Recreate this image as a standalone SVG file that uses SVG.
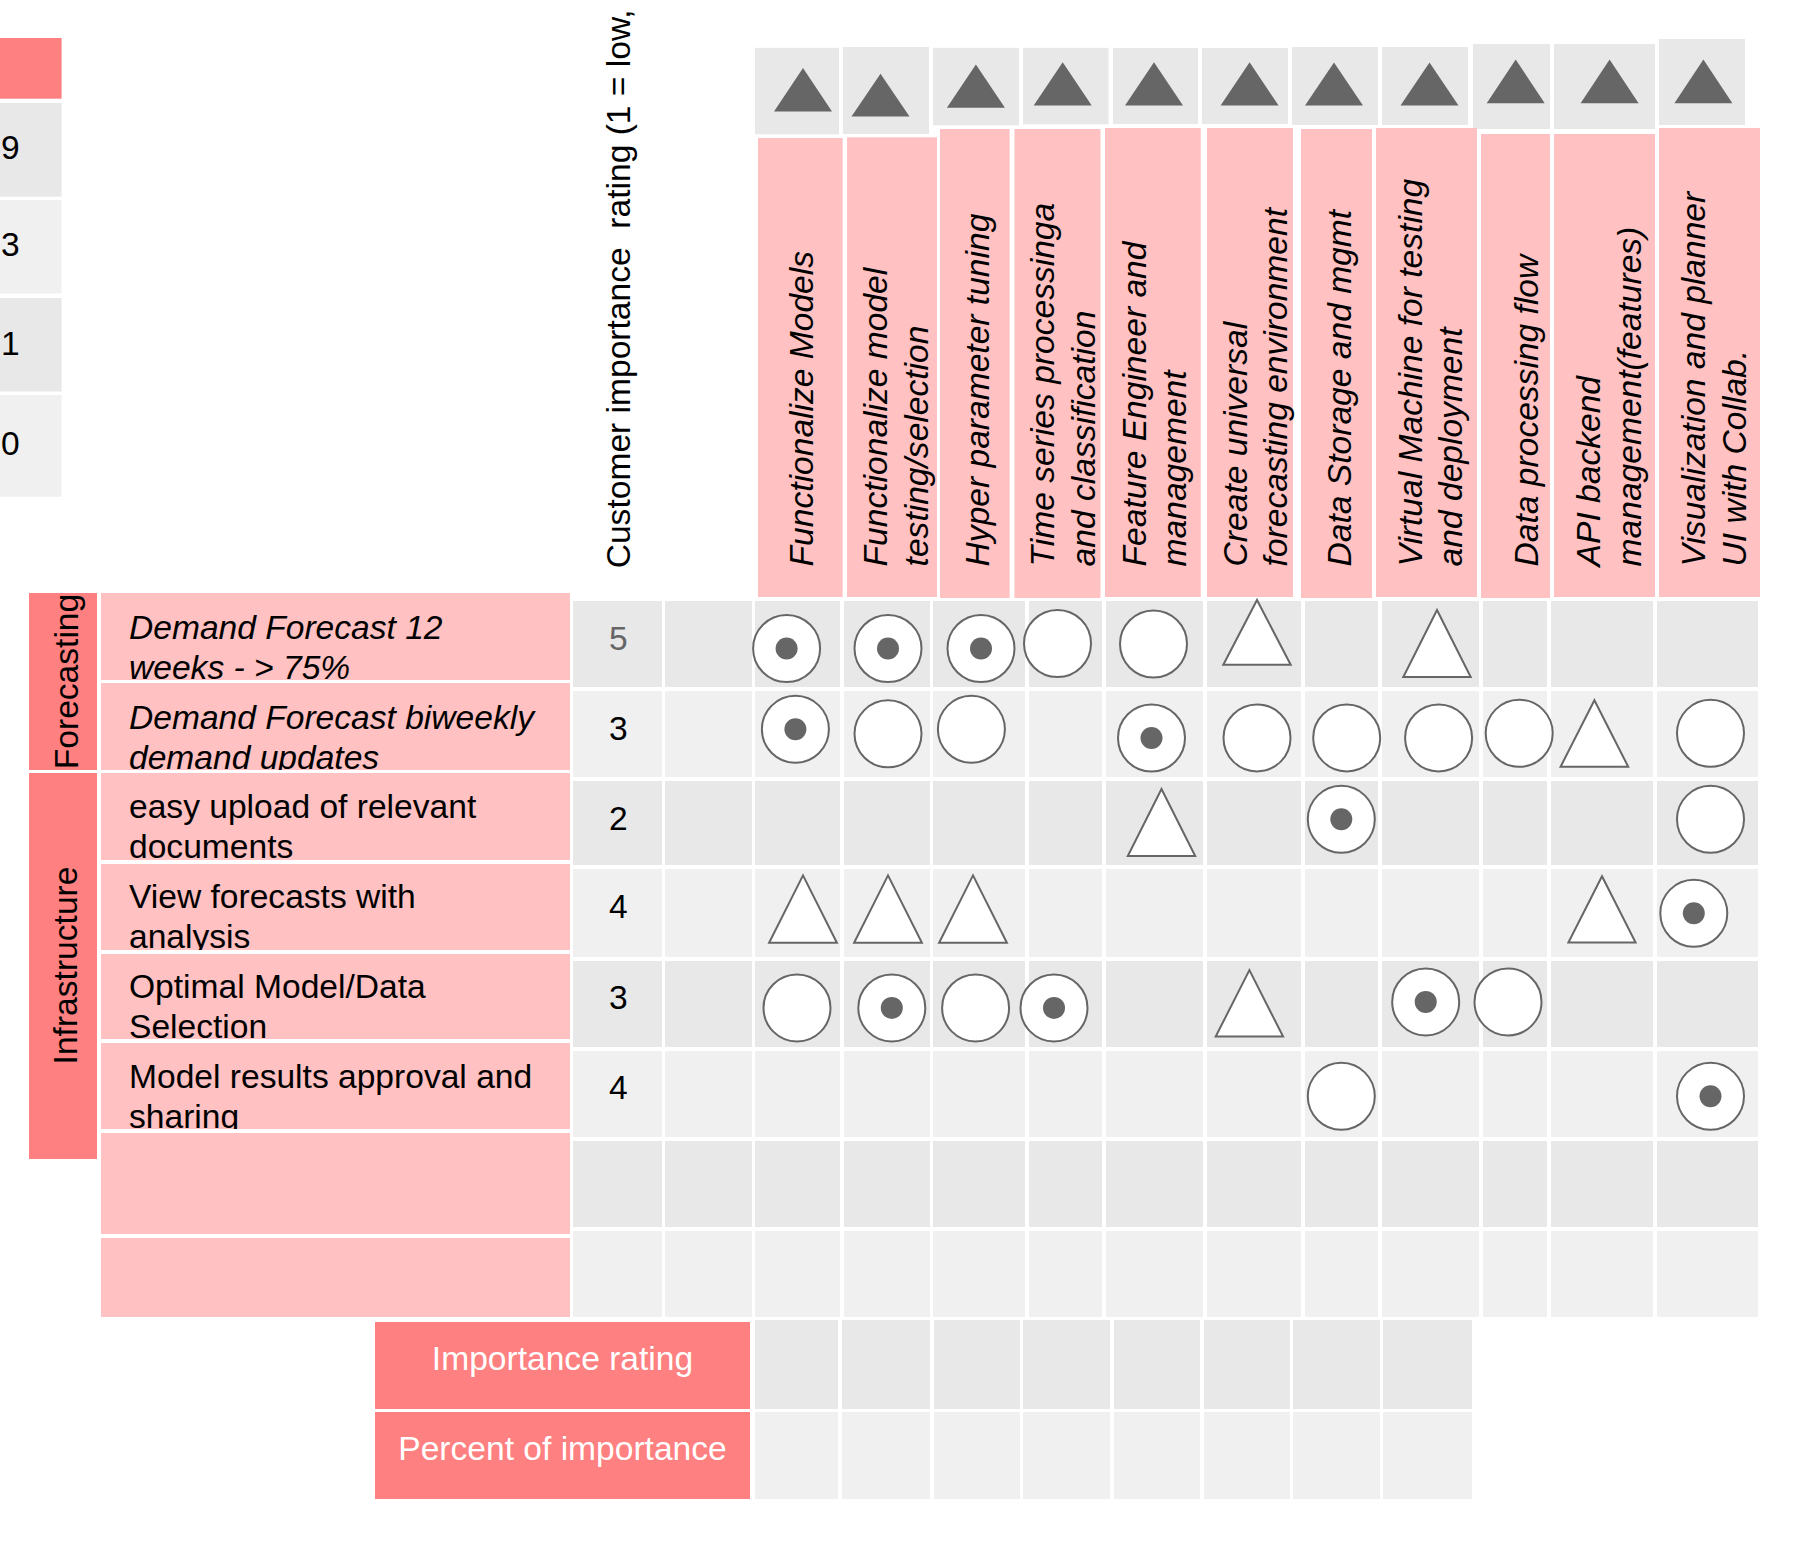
<svg xmlns="http://www.w3.org/2000/svg" width="1815" height="1554" viewBox="0 0 1815 1554">
<style>
text{font-family:"Liberation Sans",Arial,sans-serif;font-size:33.6px;fill:#000;white-space:pre}
.it{font-style:italic}
.wt{fill:#fff}
.gy{fill:#666}
.pk{fill:#ffc1c1}
.pd{fill:#ff8080}
.g1{fill:#e8e8e8}
.g2{fill:#eff0ef}
.c{fill:#fff;stroke:#666;stroke-width:2}
.d{fill:#666}
.t{fill:#fff;stroke:#666;stroke-width:2;stroke-linejoin:miter}
.ht{fill:#666}
</style>
<defs>
<clipPath id="cl1"><rect x="101" y="593" width="469" height="87"/></clipPath>
<clipPath id="cl2"><rect x="101" y="683" width="469" height="87"/></clipPath>
<clipPath id="cl3"><rect x="101" y="773" width="469" height="87"/></clipPath>
<clipPath id="cl4"><rect x="101" y="864" width="469" height="86"/></clipPath>
<clipPath id="cl5"><rect x="101" y="954" width="469" height="85"/></clipPath>
<clipPath id="cl6"><rect x="101" y="1043" width="469" height="86"/></clipPath>
<clipPath id="clF"><rect x="29" y="593" width="68" height="177"/></clipPath>
</defs>
<rect width="1815" height="1554" fill="#fff"/>

<g id="legend">
<rect class="pd" x="0" y="38" width="61.6" height="60.7"/>
<rect class="g1" x="0" y="103" width="61.6" height="93.7"/>
<rect class="g2" x="0" y="200" width="61.6" height="93.5"/>
<rect class="g1" x="0" y="298" width="61.6" height="93.5"/>
<rect class="g2" x="0" y="395" width="61.6" height="101.7"/>
<text x="1" y="158.8">9</text>
<text x="1" y="256.4">3</text>
<text x="1" y="354.8">1</text>
<text x="1" y="455.4">0</text>
</g>

<g id="customer-importance-title">
<text transform="translate(629.5,568.3) rotate(-90)">Customer importance  rating (1 = low,</text>
</g>

<g id="header-triangles">
<rect class="g1" x="755" y="47.8" width="84" height="86.5"/>
<rect class="g1" x="843" y="47" width="86" height="87"/>
<rect class="g1" x="933" y="47.8" width="86" height="77.6"/>
<rect class="g1" x="1023" y="47.8" width="85.5" height="76.5"/>
<rect class="g1" x="1113" y="48" width="85" height="76"/>
<rect class="g1" x="1202" y="48" width="86" height="76"/>
<rect class="g1" x="1292" y="47" width="86" height="78"/>
<rect class="g1" x="1382" y="47" width="86" height="78"/>
<rect class="g1" x="1473" y="44" width="77" height="85"/>
<rect class="g1" x="1554" y="44" width="101" height="85"/>
<rect class="g1" x="1659" y="39" width="86" height="86"/>
<polygon class="ht" points="803,68 832,111.4 774,111.4"/>
<polygon class="ht" points="880.5,73.7 909.5,116.6 851.5,116.6"/>
<polygon class="ht" points="975.9,64.4 1004.9,107.7 946.9,107.7"/>
<polygon class="ht" points="1062.7,62.2 1091.7,105.5 1033.7,105.5"/>
<polygon class="ht" points="1154,62.2 1183,105.5 1125,105.5"/>
<polygon class="ht" points="1249.6,62.2 1278.6,105.5 1220.6,105.5"/>
<polygon class="ht" points="1334,62.6 1363,105.5 1305,105.5"/>
<polygon class="ht" points="1429.5,62.6 1458.5,105.5 1400.5,105.5"/>
<polygon class="ht" points="1515.7,59.6 1544.7,103.3 1486.7,103.3"/>
<polygon class="ht" points="1609.6,59.6 1638.6,103.3 1580.6,103.3"/>
<polygon class="ht" points="1703.4,59.6 1732.4,103.3 1674.4,103.3"/>
</g>

<g id="header-h1"><rect class="pk" x="758" y="138" width="84.6" height="459"/>
<text class="it" transform="translate(813,566.4) rotate(-90)">Functionalize Models</text></g>
<g id="header-h2"><rect class="pk" x="847" y="137.3" width="90" height="459.7"/>
<text class="it" transform="translate(887.4,566.4) rotate(-90)">Functionalize model</text>
<text class="it" transform="translate(927.7,566.4) rotate(-90)">testing/selection</text></g>
<g id="header-h3"><rect class="pk" x="940" y="129" width="69.6" height="469"/>
<text class="it" transform="translate(988.6,566.4) rotate(-90)">Hyper parameter tuning</text></g>
<g id="header-h4"><rect class="pk" x="1014.5" y="129" width="86" height="469"/>
<text class="it" transform="translate(1054,566.4) rotate(-90)">Time series processinga</text>
<text class="it" transform="translate(1094.7,566.4) rotate(-90)">and classification</text></g>
<g id="header-h5"><rect class="pk" x="1105" y="128" width="95.7" height="469"/>
<text class="it" transform="translate(1145.6,566.4) rotate(-90)">Feature Engineer and</text>
<text class="it" transform="translate(1186,566.4) rotate(-90)">management</text></g>
<g id="header-h6"><rect class="pk" x="1207" y="128" width="86" height="469"/>
<text class="it" transform="translate(1247,566.4) rotate(-90)">Create universal</text>
<text class="it" transform="translate(1287,566.4) rotate(-90)">forecasting environment</text></g>
<g id="header-h7"><rect class="pk" x="1301" y="129" width="71" height="469"/>
<text class="it" transform="translate(1350.6,566.4) rotate(-90)">Data Storage and mgmt</text></g>
<g id="header-h8"><rect class="pk" x="1376" y="128" width="101" height="469"/>
<text class="it" transform="translate(1422,566.4) rotate(-90)">Virtual Machine for testing</text>
<text class="it" transform="translate(1462,566.4) rotate(-90)">and deployment</text></g>
<g id="header-h9"><rect class="pk" x="1481" y="134" width="69" height="464"/>
<text class="it" transform="translate(1538,566.4) rotate(-90)">Data processing flow</text></g>
<g id="header-h10"><rect class="pk" x="1554" y="134" width="101" height="463"/>
<text class="it" transform="translate(1600,566.4) rotate(-90)">API backend</text>
<text class="it" transform="translate(1641,566.4) rotate(-90)">management(features)</text></g>
<g id="header-h11"><rect class="pk" x="1659" y="128" width="101" height="469"/>
<text class="it" transform="translate(1704.5,566.4) rotate(-90)">Visualization and planner</text>
<text class="it" transform="translate(1745.5,566.4) rotate(-90)">UI with Collab.</text></g>

<g id="category-forecasting">
<rect class="pd" x="29" y="593" width="68" height="177"/>
<g clip-path="url(#clF)"><text transform="translate(78,681.5) rotate(-90)" text-anchor="middle">Forecasting</text></g>
</g>
<g id="category-infrastructure">
<rect class="pd" x="29" y="773" width="68" height="386"/>
<text transform="translate(77,965.5) rotate(-90)" text-anchor="middle">Infrastructure</text>
</g>

<g id="req-1"><rect class="pk" x="101" y="593" width="469" height="87"/>
<g clip-path="url(#cl1)"><text class="it" x="129" y="638.5">Demand Forecast 12</text><text class="it" x="129" y="678.7">weeks - &gt; 75%</text></g></g>
<g id="req-2"><rect class="pk" x="101" y="683" width="469" height="87"/>
<g clip-path="url(#cl2)"><text class="it" x="129" y="728.5">Demand Forecast biweekly</text><text class="it" x="129" y="768.7">demand updates</text></g></g>
<g id="req-3"><rect class="pk" x="101" y="773" width="469" height="87"/>
<g clip-path="url(#cl3)"><text x="129" y="818">easy upload of relevant</text><text x="129" y="858.2">documents</text></g></g>
<g id="req-4"><rect class="pk" x="101" y="864" width="469" height="86"/>
<g clip-path="url(#cl4)"><text x="129" y="908">View forecasts with</text><text x="129" y="948.2">analysis</text></g></g>
<g id="req-5"><rect class="pk" x="101" y="954" width="469" height="85"/>
<g clip-path="url(#cl5)"><text x="129" y="998">Optimal Model/Data</text><text x="129" y="1038.2">Selection</text></g></g>
<g id="req-6"><rect class="pk" x="101" y="1043" width="469" height="86"/>
<g clip-path="url(#cl6)"><text x="129" y="1088">Model results approval and</text><text x="129" y="1128.2">sharing</text></g></g>
<g id="req-7"><rect class="pk" x="101" y="1133" width="469" height="101"/></g>
<g id="req-8"><rect class="pk" x="101" y="1238" width="469" height="79"/></g>

<g id="grid">
<g id="grid-row-1">
<rect class="g1" x="573" y="601" width="89" height="86"/><rect class="g1" x="665" y="601" width="87" height="86"/><rect class="g1" x="755" y="601" width="85" height="86"/><rect class="g1" x="844" y="601" width="86" height="86"/><rect class="g1" x="933" y="601" width="92" height="86"/><rect class="g1" x="1029" y="601" width="73" height="86"/><rect class="g1" x="1106" y="601" width="97" height="86"/><rect class="g1" x="1207" y="601" width="94" height="86"/><rect class="g1" x="1305" y="601" width="73" height="86"/><rect class="g1" x="1382" y="601" width="97" height="86"/><rect class="g1" x="1483" y="601" width="64" height="86"/><rect class="g1" x="1551" y="601" width="102" height="86"/><rect class="g1" x="1657" y="601" width="101" height="86"/>
</g>
<g id="grid-row-2">
<rect class="g2" x="573" y="691" width="89" height="86"/><rect class="g2" x="665" y="691" width="87" height="86"/><rect class="g2" x="755" y="691" width="85" height="86"/><rect class="g2" x="844" y="691" width="86" height="86"/><rect class="g2" x="933" y="691" width="92" height="86"/><rect class="g2" x="1029" y="691" width="73" height="86"/><rect class="g2" x="1106" y="691" width="97" height="86"/><rect class="g2" x="1207" y="691" width="94" height="86"/><rect class="g2" x="1305" y="691" width="73" height="86"/><rect class="g2" x="1382" y="691" width="97" height="86"/><rect class="g2" x="1483" y="691" width="64" height="86"/><rect class="g2" x="1551" y="691" width="102" height="86"/><rect class="g2" x="1657" y="691" width="101" height="86"/>
</g>
<g id="grid-row-3">
<rect class="g1" x="573" y="781" width="89" height="84"/><rect class="g1" x="665" y="781" width="87" height="84"/><rect class="g1" x="755" y="781" width="85" height="84"/><rect class="g1" x="844" y="781" width="86" height="84"/><rect class="g1" x="933" y="781" width="92" height="84"/><rect class="g1" x="1029" y="781" width="73" height="84"/><rect class="g1" x="1106" y="781" width="97" height="84"/><rect class="g1" x="1207" y="781" width="94" height="84"/><rect class="g1" x="1305" y="781" width="73" height="84"/><rect class="g1" x="1382" y="781" width="97" height="84"/><rect class="g1" x="1483" y="781" width="64" height="84"/><rect class="g1" x="1551" y="781" width="102" height="84"/><rect class="g1" x="1657" y="781" width="101" height="84"/>
</g>
<g id="grid-row-4">
<rect class="g2" x="573" y="869" width="89" height="88"/><rect class="g2" x="665" y="869" width="87" height="88"/><rect class="g2" x="755" y="869" width="85" height="88"/><rect class="g2" x="844" y="869" width="86" height="88"/><rect class="g2" x="933" y="869" width="92" height="88"/><rect class="g2" x="1029" y="869" width="73" height="88"/><rect class="g2" x="1106" y="869" width="97" height="88"/><rect class="g2" x="1207" y="869" width="94" height="88"/><rect class="g2" x="1305" y="869" width="73" height="88"/><rect class="g2" x="1382" y="869" width="97" height="88"/><rect class="g2" x="1483" y="869" width="64" height="88"/><rect class="g2" x="1551" y="869" width="102" height="88"/><rect class="g2" x="1657" y="869" width="101" height="88"/>
</g>
<g id="grid-row-5">
<rect class="g1" x="573" y="961" width="89" height="86"/><rect class="g1" x="665" y="961" width="87" height="86"/><rect class="g1" x="755" y="961" width="85" height="86"/><rect class="g1" x="844" y="961" width="86" height="86"/><rect class="g1" x="933" y="961" width="92" height="86"/><rect class="g1" x="1029" y="961" width="73" height="86"/><rect class="g1" x="1106" y="961" width="97" height="86"/><rect class="g1" x="1207" y="961" width="94" height="86"/><rect class="g1" x="1305" y="961" width="73" height="86"/><rect class="g1" x="1382" y="961" width="97" height="86"/><rect class="g1" x="1483" y="961" width="64" height="86"/><rect class="g1" x="1551" y="961" width="102" height="86"/><rect class="g1" x="1657" y="961" width="101" height="86"/>
</g>
<g id="grid-row-6">
<rect class="g2" x="573" y="1051" width="89" height="86"/><rect class="g2" x="665" y="1051" width="87" height="86"/><rect class="g2" x="755" y="1051" width="85" height="86"/><rect class="g2" x="844" y="1051" width="86" height="86"/><rect class="g2" x="933" y="1051" width="92" height="86"/><rect class="g2" x="1029" y="1051" width="73" height="86"/><rect class="g2" x="1106" y="1051" width="97" height="86"/><rect class="g2" x="1207" y="1051" width="94" height="86"/><rect class="g2" x="1305" y="1051" width="73" height="86"/><rect class="g2" x="1382" y="1051" width="97" height="86"/><rect class="g2" x="1483" y="1051" width="64" height="86"/><rect class="g2" x="1551" y="1051" width="102" height="86"/><rect class="g2" x="1657" y="1051" width="101" height="86"/>
</g>
<g id="grid-row-7">
<rect class="g1" x="573" y="1141" width="89" height="86"/><rect class="g1" x="665" y="1141" width="87" height="86"/><rect class="g1" x="755" y="1141" width="85" height="86"/><rect class="g1" x="844" y="1141" width="86" height="86"/><rect class="g1" x="933" y="1141" width="92" height="86"/><rect class="g1" x="1029" y="1141" width="73" height="86"/><rect class="g1" x="1106" y="1141" width="97" height="86"/><rect class="g1" x="1207" y="1141" width="94" height="86"/><rect class="g1" x="1305" y="1141" width="73" height="86"/><rect class="g1" x="1382" y="1141" width="97" height="86"/><rect class="g1" x="1483" y="1141" width="64" height="86"/><rect class="g1" x="1551" y="1141" width="102" height="86"/><rect class="g1" x="1657" y="1141" width="101" height="86"/>
</g>
<g id="grid-row-8">
<rect class="g2" x="573" y="1231" width="89" height="86"/><rect class="g2" x="665" y="1231" width="87" height="86"/><rect class="g2" x="755" y="1231" width="85" height="86"/><rect class="g2" x="844" y="1231" width="86" height="86"/><rect class="g2" x="933" y="1231" width="92" height="86"/><rect class="g2" x="1029" y="1231" width="73" height="86"/><rect class="g2" x="1106" y="1231" width="97" height="86"/><rect class="g2" x="1207" y="1231" width="94" height="86"/><rect class="g2" x="1305" y="1231" width="73" height="86"/><rect class="g2" x="1382" y="1231" width="97" height="86"/><rect class="g2" x="1483" y="1231" width="64" height="86"/><rect class="g2" x="1551" y="1231" width="102" height="86"/><rect class="g2" x="1657" y="1231" width="101" height="86"/>
</g>
</g>

<g id="ratings">
<text class="gy" x="609" y="650">5</text>
<text x="609" y="740">3</text>
<text x="609" y="829.5">2</text>
<text x="609" y="918.3">4</text>
<text x="609" y="1009.4">3</text>
<text x="609" y="1099.3">4</text>
</g>

<g id="relationships">
<circle class="c" cx="786.6" cy="648.5" r="33.5"/><circle class="d" cx="786.6" cy="648.5" r="11"/>
<circle class="c" cx="888" cy="648.5" r="33.5"/><circle class="d" cx="888" cy="648.5" r="11"/>
<circle class="c" cx="981" cy="648.5" r="33.5"/><circle class="d" cx="981" cy="648.5" r="11"/>
<circle class="c" cx="1057.5" cy="643.5" r="33.5"/>
<circle class="c" cx="1153.5" cy="644" r="33.5"/>
<polygon class="t" points="1257,600 1290.7,664.8 1223.3,664.8"/>
<polygon class="t" points="1437,610 1470.7,677 1403.3,677"/>
<circle class="c" cx="795.4" cy="729.3" r="33.5"/><circle class="d" cx="795.4" cy="729.3" r="11"/>
<circle class="c" cx="888" cy="733.8" r="33.5"/>
<circle class="c" cx="971.4" cy="729.3" r="33.5"/>
<circle class="c" cx="1151.5" cy="738" r="33.5"/><circle class="d" cx="1151.5" cy="738" r="11"/>
<circle class="c" cx="1257" cy="737.9" r="33.5"/>
<circle class="c" cx="1346.7" cy="737.9" r="33.5"/>
<circle class="c" cx="1438.6" cy="737.9" r="33.5"/>
<circle class="c" cx="1519.2" cy="733.3" r="33.5"/>
<polygon class="t" points="1594.4,700.3 1628.2,766.7 1560.6,766.7"/>
<circle class="c" cx="1710.5" cy="733.3" r="33.5"/>
<polygon class="t" points="1161.5,789 1195.2,856 1127.8,856"/>
<circle class="c" cx="1341.3" cy="819.3" r="33.5"/><circle class="d" cx="1341.3" cy="819.3" r="11"/>
<circle class="c" cx="1710.5" cy="819.3" r="33.5"/>
<polygon class="t" points="803,875.4 836.9,942.8 769.1,942.8"/>
<polygon class="t" points="888,875.4 921.9,942.8 854.1,942.8"/>
<polygon class="t" points="973,875.4 1006.9,942.8 939.1,942.8"/>
<polygon class="t" points="1602,876.2 1635.6,942.6 1568.4,942.6"/>
<circle class="c" cx="1693.8" cy="913.3" r="33.5"/><circle class="d" cx="1693.8" cy="913.3" r="11"/>
<circle class="c" cx="797" cy="1007.9" r="33.5"/>
<circle class="c" cx="891.8" cy="1007.9" r="33.5"/><circle class="d" cx="891.8" cy="1007.9" r="11"/>
<circle class="c" cx="975.6" cy="1007.9" r="33.5"/>
<circle class="c" cx="1054" cy="1007.9" r="33.5"/><circle class="d" cx="1054" cy="1007.9" r="11"/>
<polygon class="t" points="1249.4,970.1 1283.1,1036.6 1215.7,1036.6"/>
<circle class="c" cx="1425.7" cy="1001.9" r="33.5"/><circle class="d" cx="1425.7" cy="1001.9" r="11"/>
<circle class="c" cx="1508" cy="1001.9" r="33.5"/>
<circle class="c" cx="1341.3" cy="1096.3" r="33.5"/>
<circle class="c" cx="1710.5" cy="1096.3" r="33.5"/><circle class="d" cx="1710.5" cy="1096.3" r="11"/>
</g>

<g id="importance-rating">
<rect class="pd" x="375" y="1322" width="375" height="87"/>
<text class="wt" x="562.5" y="1370" text-anchor="middle">Importance rating</text>
<rect class="g1" x="755" y="1320" width="83" height="89"/><rect class="g1" x="842" y="1320" width="88" height="89"/><rect class="g1" x="934" y="1320" width="86" height="89"/><rect class="g1" x="1023" y="1320" width="87" height="89"/><rect class="g1" x="1114" y="1320" width="86" height="89"/><rect class="g1" x="1204" y="1320" width="86" height="89"/><rect class="g1" x="1293" y="1320" width="87" height="89"/><rect class="g1" x="1383" y="1320" width="89" height="89"/>
</g>
<g id="percent-of-importance">
<rect class="pd" x="375" y="1412" width="375" height="87"/>
<text class="wt" x="562.5" y="1460" text-anchor="middle">Percent of importance</text>
<rect class="g2" x="755" y="1412" width="83" height="87"/><rect class="g2" x="842" y="1412" width="88" height="87"/><rect class="g2" x="934" y="1412" width="86" height="87"/><rect class="g2" x="1023" y="1412" width="87" height="87"/><rect class="g2" x="1114" y="1412" width="86" height="87"/><rect class="g2" x="1204" y="1412" width="86" height="87"/><rect class="g2" x="1293" y="1412" width="87" height="87"/><rect class="g2" x="1383" y="1412" width="89" height="87"/>
</g>
<g id="connectors"/>
</svg>
